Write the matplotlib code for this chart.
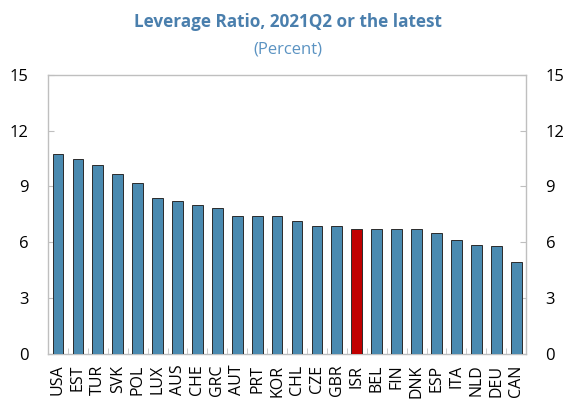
import matplotlib.pyplot as plt
import numpy as np

countries = ["USA", "EST", "TUR", "SVK", "POL", "LUX", "AUS", "CHE", "GRC", "AUT", "PRT", "KOR",
             "CHL", "CZE", "GBR", "ISR", "BEL", "FIN", "DNK", "ESP", "ITA", "NLD", "DEU", "CAN"]
leverage = [10.74, 10.48, 10.14, 9.66, 9.16, 8.38, 8.23, 8.0, 7.82, 7.43, 7.39, 7.38,
            7.16, 6.89, 6.86, 6.72, 6.72, 6.70, 6.70, 6.48, 6.14, 5.86, 5.81, 4.92]
highlight = "ISR"

plt.rcParams['font.family'] = ['Open Sans', 'DejaVu Sans']

fig = plt.figure(figsize=(5.75, 4.05), dpi=100)
ax = fig.add_axes([0.0835, 0.127, 0.8315, 0.688])

x = np.arange(len(countries))
colors = ['#c00000' if c == highlight else '#4a8ab0' for c in countries]
ax.bar(x, leverage, width=0.54, color=colors, edgecolor='#2b2b2b', linewidth=0.7, zorder=3)

ax.set_xlim(-0.5, len(countries) - 0.5)
ax.set_ylim(0, 15)
ax.set_yticks([0, 3, 6, 9, 12, 15])
ax.set_xticks(x)
ax.set_xticklabels(countries, rotation=90, fontsize=11.5)
ax.set_xticks(np.arange(-0.5, len(countries), 1), minor=True)
ax.tick_params(axis='x', which='major', length=0, pad=8)
ax.tick_params(axis='x', which='minor', direction='in', length=4, color='#bfbfbf')
ax.tick_params(axis='y', direction='in', length=4, color='#bfbfbf', labelsize=12,
               left=True, right=True, labelleft=True, labelright=True, pad=14)

for s in ax.spines.values():
    s.set_color('#bfbfbf')
    s.set_linewidth(1)

fig.text(0.5, 0.945, "Leverage Ratio, 2021Q2 or the latest", ha='center', va='center',
         fontsize=12.3, fontweight='bold', color='#4a7fad')
fig.text(0.5, 0.878, "(Percent)", ha='center', va='center', fontsize=12, color='#5b93c2')

fig.savefig("out.png", dpi=100)
